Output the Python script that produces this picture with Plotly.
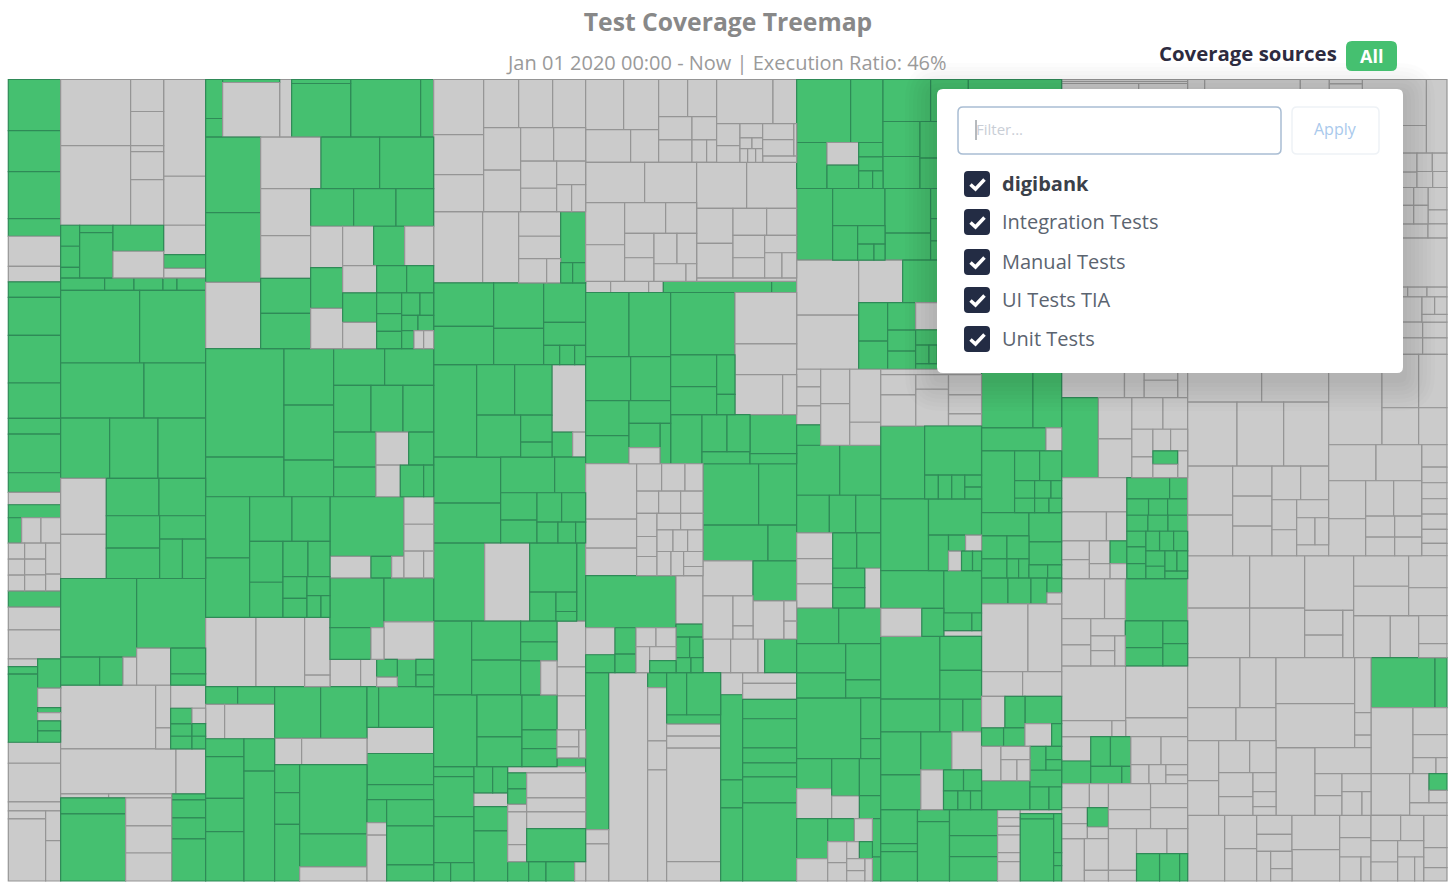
import plotly.graph_objects as go

GREEN = "#45c070"
GREEN_LINE = "#2f8a57"
GRAY = "#cbcbcb"
GRAY_LINE = "#959595"
NAVY = "#232c44"

W = 1452
H = 896

# Each package: a list whose first item is its size next to its siblings, then its children.
# A plain number is a file: its size, positive when covered, negative when not.
# Levels go columns, rows, columns, rows...
module_a = [157, 153, 123, 141, 53, -90, -47, 46, 114, 143, 106, 47, 116, 59, -37, 39,
            [76, 40, -58, -59],
            [143, [49, -48, -48, -47], [63, -48, -47, -48], [45, -93, -50]],
            49, -68, -87,
            [250, [88, -23, 23, 204], [69, 88, -58, 15, -25, 30, 34]],
            -63, -116, -27,
            [210, [112, -24, -186], [45, -89, -121]]]

module_b = [435,
            [595, [309, [437, [210, -198, -239], [99, -96, -102, -18, -84, -137]],
                   [158, [57, 63, 63, 32], [100, 22, 136], [152, 78, -80]]],
             [126, -290, -147, -88, 41, -29]],
            [37, 132, 88, 87, 42, 86],
            [218, 237, 198],
            [165, 250, 185],
            [181, 147, 145, 143],
            [300, [137, -168, -132], [298, [112, 158, 140], [188, [160, 97, 91], [138, 70, [118, 68, 69]]]]],
            [320, [228, 236, [84, 117, 70, -41]], [207, 209, [111, -102, [105, 77, 34]]]],
            [191, -285, [45, -128, -63], [105, -69, [122, [64, 47, 37, 38], [41, -46, 38, 38]]]],
            [135, -346, -89],
            [261, [333, [12, -144, -189], [249, [195, 48, 201], [138, -84, -81, -84]]], [102, 18, 54, 63, 126]]]

module_c = [684,
            [173, [51, 117, 56], [171, 9, -164], -36, [177, 12, 161], 210, 39],
            [634, [165, 226, 209, -199],
             [519, [154, -181, 176, 162],
              [480, [150, -141, -128, 105, 106],
               [369, [113, 129, 127, 113],
                [367, [96, -124, 122, -121],
                 [273, [118, -93, 93, -87],
                  [249, [102, -82, 88, -79],
                   [171, [82, 90, 81],
                    [167, [75, 62, 53, 52], [96, [67, 55, 41], [46, 49, 47], [54, 37, -29, -30]]]]]]]]]]],
            [444, [235, 325, 119], [149, 169, 165, 110],
             [300, [110, 153, 147], [140, 112, 96, 92],
              [194, [127, 105, 89], [173, [99, -98, 75], [95, -73, 70, 30]]]]],
            [569,
             [373, [360, [132, 182, 178],
                    [241, [133, 127, 114],
                     [227, [100, 122, 105], [141, [105, 75, 66], [122, [72, 65, 57], [69, 57, [65, 42, 27]]]]]]],
              [206, -151, -146, [76, -172, -34]]],
             [311, [242, [222, 178, [64, -123, 62, -37]], [89, -82, -80, [80, -59, -30]]],
              [243, [162, 148, [95, 123, -39]], [149, 131, -112]],
              [81, -92, -48, [62, 53, -28], 56, [53, 46, 35]]]],
            [583,
             [207, [53, 96, 111], [103, -57, -150], [425, [115, 53, 124, 99, 147], [92, 96, 327]]],
             [277, [155, 138, 139], [78, -81, -196], [348, [75, 84, 95, 169], [202, 207, 99, -42]]],
             [200, [122, 35, 165], -78, 93, 45, [243, [59, 69, -37, -137], [141, 78, 117, 48]]]]]

module_d = [456,
            [396, [150, -165, -120, -111],
             [306, [144, -105, -102, -99],
              [252, [111, -128, -124],
               [195, [101, -99, -96], [151, [108, -81, -70], [87, -70, [81, -45, -42]]]]]]],
            [214, -147, -108, [126, -74, -67, [73, -84, -42]], [75, 153, [61, 36, 39]]],
            [245, [180, 130, 115], [150, 136, 109], [126, 118, 69, [58, 48, 45, 33]]],
            [277, 129, [226, [151, 114, 112], [126, 132, [94, 81, 45]]], [101, -202, [75, 62, -39]]],
            [257, [201, 138, 119],
             [255, [107, 162, 93], [150, [109, 82, 68], [146, [88, 74, 72], [62, 63, 53, 30]]]]],
            [235, 153, -135, [141, 148, [87, 79, [62, 58, 29]]], 27],
            [436,
             [370, [221, 114, [147, 117, 104], [109, 62, 57, [102, 60, -49]]],
              [215, 130, [135, 126, 89], [105, 105, 56, 54]]],
             [86, -137, -87, -102, [84, [65, -51, -33], -21], 26]],
            [343, [121, 30, 120, 138, [55, 51, 70]],
             [101, [79, 56, 45], -41, 73, 150],
             [234, -19, [266, [57, 48, 46, -23, -98, -51], [177, -75, -42, -50, 99]], [58, 63, 52, 86, -33]]]]

module_e = [633,
            [248, [219, [150, -114, -105], [98, -135, -84]],
             [174, [111, -87, -87], [70, -100, -74], [67, -100, -44, -30]],
             [240, [132, -169, -71],
              [116, [70, -66, -50], [68, -43, [32, -36, -32], [41, -23, -24, -21]],
               [102, [97, [93, -48, -49], -9], -19]]]],
            [357,
             [333, [121, -177, -156],
              [236, [117, -126, -110],
               [216, [92, -123, -93], [144, [88, -73, -71], [128, [91, -69, -59], [53, -96, -32]]]]]],
             [300, [138, -150, -150],
              [208, [109, -105, -103],
               [191, [81, -101, -90], [127, [95, -67, -60], [96, -52, [75, -52, -44]]]]],
              -11]],
            [33, -75, -114, -44, 325, 75],
            [513,
             [255, [192, 130, 125], [132, 135, 120],
              [189, [130, 105, 84], [125, 68, [121, [93, 73, -48], 32]]]],
             [378,
              [366, [193, 187, [179, [138, 95, 84], [55, 118, 61]]], [185, -154, -92, [120, -143, -42]]],
              [147, 94, [144, [111, 75, 69], 36], [140, 117, 30]]]],
            [626,
             [352,
              [336, [153, -166, -87, -82],
               [199, [82, -75, -70, -54], [67, -66, -66, -67],
                [186, [61, -69, -60, -57],
                 [138, [49, -71, -67], [65, -48, -44, -46], [72, -42, -38, [58, -45, -27]]]]]],
              [292, [271, 157, [135, [88, -81, 54], [63, 79, 56], [120, [57, -60, -60], [78, -41, [79, -42, 36]]]]],
               [81, -146, 39, [62, 41, 40], [45, 45, 36]]]],
             [281, [184, 167, 114], [107, 195, 86],
              [234, [150, -105, [129, -90, [60, -90, -39]]], [131, 119, [113, -93, [38, -60, -53]]]],
              [101, -83, -82, -20, 96]]],
            [624, [69, 470, -43, -111], -117, [57, 45, -159, -87, -333],
             [162, [126, 60, 102], 28, -36, -36, -340, -58],
             [66, -66, 255, 84, 219],
             [162, -32, -48, 58, 87, 45, 42, 78, 234]]]

module_f = [252,
            [228, [72, -53, -57, -57, 61], [87, -103, -125], [93, -159, -69]],
            [150, 129, 123],
            [113, 98, 79, 75],
            [225, [108, -77, -76, -72], [144, [106, 72, 72], [119, [96, 58, 61], -48]]],
            [107, 126, 126],
            [163, [147, 87, 75], [105, 109, 54]],
            [182, 192, [60, 122, 60]],
            [180, [105, 90, -90], [83, 112, -68], [64, 111, 69]],
            [187, [93, 120, -67],
             [134, [69, 80, -54], [118, [57, -63, -55], [77, [51, -38, 39], [67, [54, -36, -31], -23]]]],
             [25, 115, 72]]]

module_g_left = [302, -16,
                 [154, [105, -61, -93], [98, -44, -110], [99, -61, -57, -36]],
                 [218, 131, [170, 147, [71, 41, 40, 39, [50, 36, 35]]]],
                 [215, 143, [159, 109, [106, 60, [99, [48, 48, -45], [58, -39, 33, 27]]]]],
                 [197, [189, 113, [84, -123, 66]], [113, 127, [53, 84, 29], -17]],
                 [188, 177, [125, 102, 86]],
                 [98, 177, 69, 56],
                 [233, [120, 129, 104],
                  [182, [114, 93, -89], [119, -68, [114, [63, 60, 54], [56, 43, 38, 33]]]]]]

module_g_right = [240,
                  [176, 154, 86],
                  [69, 193, -47],
                  [185, 99, [141, [89, 75, 66], [53, 60, 49, 32], [43, 60, 43, 38]]],
                  [196, [142, 70, [69, 76, 66], [57, 76, 35, 31]], [98, 88, 69, [39, 56, 42]]],
                  [78, 79, 69, 48, [44, 45, -33]],
                  [203, -139, -101],
                  [74, -123, -117],
                  [150, [130, [95, -70, 60], [55, 66, 64]], [110, 82, [68, -80, 30]]],
                  [190, [145, [103, -58, [87, -40, [63, -48, -39]]], 87],
                   [95, [71, 48, [47, 40, 31]], 51, [68, 57, 38]]]]

module_g_bottom = [214, [110, 102, 24, 88], [96, 36, 178], [144, 78, 63, 73],
                   [68, -24, -26, -26, -53, -27, -58],
                   [124, -12, [202, [100, 16, 186], [24, 117, 39, 46]]]]

module_fg = [795,
             [327, [259, [189, 162, 97], [138, 91, [95, -68, 70], [73, 43, 42, [53, 42, 31]]]],
              [536, [126, 143, 113, 280], [201, [111, 105, 96], [425, [110, 210, 215], [91, 230, 195]]]]],
             [215, 108, [157, 111, [104, 75, [82, 56, [48, 49, 33]]]], [137, 134, 81],
              [393, [90, 200, 193], [67, 120, 140, 133], [58, 160, 233]]],
             [327, [186, -165, -162],
              [369, [127, -132, 237],
               [200, [87, 116, 84], [84, 83, 63, 54], [198, -82, [46, 100, 98], [55, 40, 25, 133], 17]]],
              [240, [127, 120, 120], [200, 100, 140]]],
             [1535, module_f, [542, [1321, module_g_left, module_g_right], module_g_bottom]]]

module_h = [378, -6, -6, [120, -231, -147], [240, -150, -120, -108], [220, -130, -248], [190, -200, -178],
            [172, -188, -59, [100, -120, -52], -30],
            [240, 110, [100, -124, -116],
             [167, [95, -93, -74],
              [145, [63, -83, -62], [104, [65, -53, -51], [80, [74, 40, -40], -30]]]]],
            [303,
             [195, -103, [87, -134, -61], [113, [83, -56, -57], [62, -68, -45], [50, 68, -45]]],
             [182, [64, 128, 54], [49, 65, 57, 60], [48, 63, 60, 59],
              [142, [57, 47, 50, 45],
               [125, [59, 41, 42, 42], [83, [57, 46, 37], [68, [60, 36, 32], 23]]]]]],
            [262,
             [190, [120, -128, -62], [142, [87, -79, -63], [103, -52, [90, [71, -44, -46], -32]]]],
             [186, 127, [135, [112, 80, 55], [74, 68, 67]]]],
            [212, [191, -164, [48, -150, -41]], [185, -156, -56]],
            [141, [87, -73, 68], [120, [89, 59, 61], [52, 93, 27]],
             [170, [101, -75, -66], [69, -45, -42, [54, -37, -32]]]],
            [292,
             [140, [72, -83, -57], [93, [77, -48, -45], [63, 58, -35]], [127, -68, [72, -95, -32]]],
             [237, [135, [126, -78, -57], [111, -72, -63]],
              [157, [84, -125, -32], [153, [75, -91, -62], [82, 69, 60, 24]]]]]]

module_i = [778,
            [221, [716, [138, -51, -287, -87, [99, -13, -125], -192], -83], -62],
            [254, [600, -100, -100, -54],
             [178, [103, [88, -57, -46], [90, [55, -45, -43], [48, -47, -43]]],
              [151, [121, [109, [78, -54, -55], [43, -54, -55]], -42], [57, -67, -42, -42]]]],
            -148,
            [29, -660, -58, -60],
            [76, -703, [75, [53, -38, -37], -23]],
            [47, -705, -73],
            [50, -705, -73],
            [604,
             [423, [143, -222, -201], [192, -148, -140, -135],
              [269, [135, -147, -122], [118, -90, -90, -89],
               [170, [101, -86, -84], [168, [74, -90, -78], [96, -54, [81, -55, -41], -33]]]]],
             [355, [271, -160, [110, -160, -111], [85, -160, -111]],
              [333, [279, [108, -142, -137],
                     [225, [111, -114, -111], [168, [106, -84, -84], [63, -87, -81], [56, -87, -81]]]],
               [76, -67, -47, -48, -46, -46, -42, -37]]]],
            [306, [186, -157, -149], [165, -157, -149], [147, -164, [142, [114, -73, -67], -33]],
             [280, [180, [165, -91, -88], [115, -96, -84]], [126, -110, -85, [85, -84, -42]]]],
            [473,
             [265, [150, -157, -108], [99, -145, -120],
              [224, [93, -120, -104], [172, [96, -93, -79], [128, [103, -72, -56], [69, -57, -45, -26]]]]],
             [285, [270, [236, -138, -132], [49, -165, -67, -38]],
              [203, -117, [168, -78, [125, [81, -66, -59], [87, -54, [71, -60, -27]]]]]],
             [228, [150, 192, 36], [198, -126, [102, -81, -69, [48, -69, -33]]],
              [125, -116, [112, [87, -58, [54, 50, -37]], -38]]]],
            [197, -111, [96, -100, -97], [106, -57, -51, [89, -42, [64, -52, -37]]], [143, -103, -94],
             [94, -67, -58, [72, -64, -30]],
             [158, [76, -89, -69], [121, [80, -64, -57], [78, -49, [72, -51, -27]]]],
             [70, -97, -60, -40]]]

modules = [module_a, module_b, module_c, module_d, module_e, module_fg, module_h, module_i]
sources = ["Integration Tests", "Manual Tests", "UI Tests TIA", "Unit Tests"]

ids, parents, values, colors, line_colors = ["root"], [""], [0], ["rgba(0,0,0,0)"], ["rgba(0,0,0,0)"]


def size_of(node):
    return abs(node) if not isinstance(node, list) else node[0]


def add_children(children, parent_id, parent_value):
    total = sum(size_of(c) for c in children)
    for i, child in enumerate(children):
        node_id = f"{parent_id}/{i}"
        value = parent_value * size_of(child) / total
        ids.append(node_id)
        parents.append(parent_id)
        if isinstance(child, list):
            values.append(0)
            colors.append("rgba(0,0,0,0)")
            line_colors.append("rgba(0,0,0,0)")
            add_children(child[1:], node_id, value)
        else:
            values.append(value)
            colors.append(GREEN if child > 0 else GRAY)
            line_colors.append(GREEN_LINE if child > 0 else GRAY_LINE)


add_children(modules, "root", 1000000.0)

fig = go.Figure(go.Treemap(
    ids=ids,
    labels=ids,
    parents=parents,
    values=values,
    branchvalues="remainder",
    sort=False,
    textinfo="none",
    hoverinfo="skip",
    maxdepth=-1,
    domain=dict(x=[8.3 / W, 1447 / W], y=[1 - 881 / H, 1 - 79.5 / H]),
    tiling=dict(packing="slice-dice", pad=0),
    pathbar=dict(visible=False),
    marker=dict(colors=colors, line=dict(color=line_colors, width=1.2),
                pad=dict(t=0, l=0, r=0, b=0), depthfade=False),
))


def px(x):
    return x / W


def py(y):
    return 1 - y / H


def round_rect(x0, y0, x1, y1, r):
    return (f"M{px(x0 + r)},{py(y0)} L{px(x1 - r)},{py(y0)} Q{px(x1)},{py(y0)} {px(x1)},{py(y0 + r)} "
            f"L{px(x1)},{py(y1 - r)} Q{px(x1)},{py(y1)} {px(x1 - r)},{py(y1)} "
            f"L{px(x0 + r)},{py(y1)} Q{px(x0)},{py(y1)} {px(x0)},{py(y1 - r)} "
            f"L{px(x0)},{py(y0 + r)} Q{px(x0)},{py(y0)} {px(x0 + r)},{py(y0)} Z")


def box(x0, y0, x1, y1, r, fill, line="rgba(0,0,0,0)", width=0, opacity=1):
    fig.add_shape(type="path", path=round_rect(x0, y0, x1, y1, r), xref="paper", yref="paper",
                  fillcolor=fill, line=dict(color=line, width=width), opacity=opacity, layer="above")


def label(x, y, text, size, color, bold=False, anchor="left"):
    fig.add_annotation(x=px(x), y=py(y), xref="paper", yref="paper", text=f"<b>{text}</b>" if bold else text,
                       showarrow=False, xanchor=anchor, yanchor="middle", borderpad=0,
                       font=dict(family="Open Sans", size=size, color=color))


# shadow of the dropdown
for spread in range(32, 0, -4):
    box(937 - spread, 89 - spread + 6, 1403 + spread, 373 + spread + 6, spread + 4, "#000000", opacity=0.012)
box(937, 89, 1403, 373, 6, "#ffffff")

# filter box and apply button
box(958, 107, 1281, 154, 5, "#ffffff", "#a9bdd3", 1.5)
box(1292, 107, 1379, 154, 5, "#ffffff", "#eef2f6", 1.5)
fig.add_shape(type="line", x0=px(976), x1=px(976), y0=py(120), y1=py(140), xref="paper", yref="paper",
              line=dict(color="#6c757d", width=1), layer="above")
label(975, 129, "Filter...", 15, "#c9ced6")
label(1335.5, 129, "Apply", 16, "#a9c9ec", anchor="center")

# source list
rows_y = [184, 222, 262, 300, 339]
for y, name in zip(rows_y, ["digibank"] + sources):
    box(964, y - 13, 990, y + 13, 4, NAVY)
    fig.add_shape(type="path", xref="paper", yref="paper", layer="above",
                  path=f"M{px(970.5)},{py(y + 0.5)} L{px(975.5)},{py(y + 5)} L{px(984.5)},{py(y - 4.5)}",
                  line=dict(color="#ffffff", width=3.5))
    if name == "digibank":
        label(1001, y - 0.5, name, 20, "#3b4049", bold=True)
    else:
        label(1001, y - 0.5, name, 20, "#5b6470")

# header
label(1158, 53.5, "Coverage sources", 20.4, "#2d2b3f", bold=True)
box(1346, 41, 1397, 71, 6, GREEN)
label(1371, 56, "All", 18, "#ffffff", bold=True, anchor="center")
label(726.5, 62.5, "Jan 01 2020 00:00 - Now | Execution Ratio: 46%", 20, "#9a9a9a", anchor="center")

fig.update_layout(
    title=dict(text="<b>Test Coverage Treemap</b>", x=728 / W, xanchor="center", y=1 - 22 / H, yanchor="middle",
               font=dict(family="Open Sans", size=24.7, color="#888888")),
    width=W,
    height=H,
    margin=dict(l=0, r=0, t=0, b=0),
    paper_bgcolor="#ffffff",
    showlegend=False,
)

fig.write_html("out.html", config=dict(displayModeBar=False),
               post_script="document.body.style.margin='0';document.body.style.overflow='hidden';")
